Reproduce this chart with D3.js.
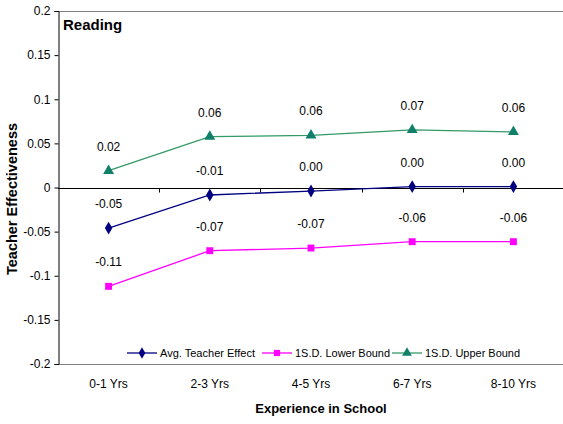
<!DOCTYPE html>
<html>
<head>
<meta charset="utf-8">
<script src="https://cdn.jsdelivr.net/npm/d3@7"></script>
<style>
  html, body { margin: 0; padding: 0; background: #fff; }
  svg { display: block; font-family: "Liberation Sans", Arial, sans-serif; }
</style>
</head>
<body>
<svg id="chart" width="563" height="424"></svg>
<script>
// Experience bands on the category axis
const categories = ["0-1 Yrs", "2-3 Yrs", "4-5 Yrs", "6-7 Yrs", "8-10 Yrs"];

// Series values (teacher effect estimates)
const avgEffect  = [-0.046, -0.0085, -0.004, 0.001, 0.001];
const lowerBound = [-0.112, -0.0716, -0.0686, -0.0614, -0.0614];
const upperBound = [0.019, 0.0576, 0.059, 0.0652, 0.063];

const yTicks = [0.2, 0.15, 0.1, 0.05, 0, -0.05, -0.1, -0.15, -0.2];

const seriesNames = ["Avg. Teacher Effect", "1S.D. Lower Bound", "1S.D. Upper Bound"];

(function () {
  const svg = d3.select("#chart");
  const W = 563;
  const plotL = 58, plotR = 564, plotT = 11, plotB = 364;

  const x = d3.scaleBand().domain(categories).range([plotL, plotR]);
  const y = d3.scaleLinear().domain([-0.2, 0.2]).range([plotB, plotT]);

  // Plot frame (top and bottom edges)
  svg.append("line").attr("x1", plotL).attr("x2", W).attr("y1", plotT + 0.5).attr("y2", plotT + 0.5)
    .attr("stroke", "#808080").attr("stroke-width", 1);
  svg.append("line").attr("x1", plotL).attr("x2", W).attr("y1", plotB + 0.5).attr("y2", plotB + 0.5)
    .attr("stroke", "#808080").attr("stroke-width", 1);

  // Value axis
  const yAxis = d3.axisLeft(y).tickValues(yTicks).tickSize(4).tickPadding(4)
    .tickFormat(d => d === 0 ? "0" : String(d));
  const gy = svg.append("g").attr("transform", `translate(${plotL + 0.5},0)`).call(yAxis);
  gy.select(".domain").attr("stroke", "#000");
  gy.selectAll(".tick line").attr("stroke", "#000");
  gy.selectAll(".tick text").attr("font-size", 12).attr("fill", "#000")
    .attr("font-family", "Liberation Sans, Arial, sans-serif");

  // Category axis crossing at zero, with tick marks between bands
  const y0 = Math.round(y(0)) + 0.5;
  svg.append("line").attr("x1", plotL).attr("x2", W).attr("y1", y0).attr("y2", y0)
    .attr("stroke", "#000").attr("stroke-width", 1);
  categories.slice(1).forEach(c => {
    const bx = Math.round(x(c)) + 0.5;
    svg.append("line").attr("x1", bx).attr("x2", bx).attr("y1", y0).attr("y2", y0 + 4)
      .attr("stroke", "#000");
  });

  // Category labels along the bottom
  svg.append("g").selectAll("text").data(categories).join("text")
    .attr("x", d => x(d) + x.bandwidth() / 2)
    .attr("y", 388)
    .attr("text-anchor", "middle")
    .attr("font-size", 12)
    .text(d => d);

  // Axis titles
  svg.append("text").attr("x", 321).attr("y", 413)
    .attr("text-anchor", "middle").attr("font-size", 13).attr("font-weight", "bold")
    .text("Experience in School");
  svg.append("text")
    .attr("transform", "translate(17,199) rotate(-90)")
    .attr("text-anchor", "middle").attr("font-size", 14.5).attr("font-weight", "bold")
    .text("Teacher Effectiveness");

  // Panel title
  svg.append("text").attr("x", 63).attr("y", 30)
    .attr("font-size", 15).attr("font-weight", "bold").text("Reading");

  const series = [
    { name: seriesNames[0], values: avgEffect, line: "#000080", fill: "#000080", shape: d3.symbolDiamond, size: 48 },
    { name: seriesNames[1], values: lowerBound, line: "#FF00FF", fill: "#FF00FF", shape: d3.symbolSquare, size: 48 },
    { name: seriesNames[2], values: upperBound, line: "#339966", fill: "#11806a", shape: d3.symbolTriangle, size: 52 }
  ];

  const cx = c => x(c) + x.bandwidth() / 2;
  const lineGen = d3.line().x(d => cx(d.c)).y(d => y(d.v));
  const fmt = v => (Math.abs(v) < 0.005 ? 0 : v).toFixed(2);

  series.forEach(s => {
    const pts = categories.map((c, i) => ({ c, v: s.values[i] }));
    svg.append("path").datum(pts).attr("d", lineGen)
      .attr("fill", "none").attr("stroke", s.line).attr("stroke-width", 1.3);
    svg.append("g").selectAll("path").data(pts).join("path")
      .attr("transform", d => `translate(${cx(d.c)},${y(d.v)})`)
      .attr("d", d3.symbol().type(s.shape).size(s.size))
      .attr("fill", s.fill);
    svg.append("g").selectAll("text").data(pts).join("text")
      .attr("x", d => cx(d.c))
      .attr("y", d => y(d.v) - 20)
      .attr("text-anchor", "middle")
      .attr("font-size", 12)
      .text(d => fmt(d.v));
  });

  // Legend
  const legendX = [127, 262, 392];
  const legend = svg.append("g");
  series.forEach((s, i) => {
    const lx = legendX[i], ly = 353;
    legend.append("line").attr("x1", lx).attr("x2", lx + 30).attr("y1", ly).attr("y2", ly)
      .attr("stroke", s.line).attr("stroke-width", 1.3);
    legend.append("path").attr("transform", `translate(${lx + 15},${ly})`)
      .attr("d", d3.symbol().type(s.shape).size(s.size * 0.8)).attr("fill", s.fill);
    legend.append("text").attr("x", lx + 33).attr("y", ly + 4)
      .attr("font-size", 11).attr("textLength", 95).attr("lengthAdjust", "spacingAndGlyphs")
      .text(s.name);
  });
})();
</script>
</body>
</html>
